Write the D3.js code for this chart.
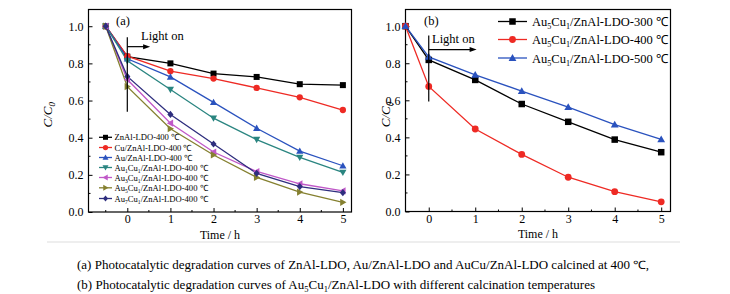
<!DOCTYPE html>
<html><head><meta charset="utf-8">
<script src="https://cdn.jsdelivr.net/npm/d3@7/dist/d3.min.js"></script>
<style>
body{margin:0;background:#fff;}
text{font-family:"Liberation Serif","Times New Roman",serif;}
</style></head>
<body><svg id="c" width="730" height="294"></svg>
<script>
// ---------- data ----------
const times = [-0.5, 0, 1, 2, 3, 4, 5];
const xTicks = [0, 1, 2, 3, 4, 5];
const yTicks = [0.0, 0.2, 0.4, 0.6, 0.8, 1.0];

// panel (a)
const znal   = [1.0, 0.836, 0.800, 0.745, 0.727, 0.688, 0.683];
const cu     = [1.0, 0.839, 0.758, 0.718, 0.668, 0.617, 0.549];
const au     = [1.0, 0.825, 0.727, 0.590, 0.451, 0.328, 0.249];
const au1cu1 = [1.0, 0.814, 0.659, 0.505, 0.390, 0.294, 0.213];
const au3cu1 = [1.0, 0.713, 0.478, 0.323, 0.218, 0.152, 0.114];
const au5cu1 = [1.0, 0.675, 0.448, 0.307, 0.186, 0.107, 0.052];
const au7cu1 = [1.0, 0.730, 0.525, 0.366, 0.208, 0.137, 0.104];

// panel (b)
const t300 = [1.0, 0.818, 0.710, 0.580, 0.484, 0.388, 0.320];
const t400 = [1.0, 0.675, 0.445, 0.308, 0.185, 0.107, 0.052];
const t500 = [1.0, 0.834, 0.737, 0.650, 0.563, 0.469, 0.389];

const seriesA = [
  {pre:"", sub:[], txt:"ZnAl-LDO-400 ℃", v:znal, c:"#000000", m:"square"},
  {pre:"", sub:[], txt:"Cu/ZnAl-LDO-400 ℃", v:cu, c:"#ee2a24", m:"circle"},
  {pre:"", sub:[], txt:"Au/ZnAl-LDO-400 ℃", v:au, c:"#2a52be", m:"up"},
  {sub:["1","1"], v:au1cu1, c:"#2a8580", m:"down"},
  {sub:["3","1"], v:au3cu1, c:"#c058c8", m:"left"},
  {sub:["5","1"], v:au5cu1, c:"#858030", m:"right"},
  {sub:["7","1"], v:au7cu1, c:"#2e2e7e", m:"diamond"}
];
const seriesB = [
  {sub:["5","1"], tail:"-300 ℃", v:t300, c:"#000000", m:"square"},
  {sub:["5","1"], tail:"-400 ℃", v:t400, c:"#ee2a24", m:"circle"},
  {sub:["5","1"], tail:"-500 ℃", v:t500, c:"#2a52be", m:"up"}
];

const svg = d3.select("#c");

function marker(g, type, x, y, s, col){
  const h = s/2;
  if(type==="square") g.append("rect").attr("x",x-h).attr("y",y-h).attr("width",s).attr("height",s).attr("fill",col);
  else if(type==="circle") g.append("circle").attr("cx",x).attr("cy",y).attr("r",h*1.05).attr("fill",col);
  else {
    let pts;
    const k=h*1.2;
    if(type==="up") pts=[[x,y-k],[x+k,y+k*0.75],[x-k,y+k*0.75]];
    if(type==="down") pts=[[x,y+k],[x+k,y-k*0.75],[x-k,y-k*0.75]];
    if(type==="left") pts=[[x-k,y],[x+k*0.75,y-k],[x+k*0.75,y+k]];
    if(type==="right") pts=[[x+k,y],[x-k*0.75,y-k],[x-k*0.75,y+k]];
    if(type==="diamond") pts=[[x,y-k],[x+k*0.85,y],[x,y+k],[x-k*0.85,y]];
    g.append("polygon").attr("points",pts.map(p=>p.join(",")).join(" ")).attr("fill",col);
  }
}

function panel(o){
  const x = d3.scaleLinear().domain(o.xd).range([o.l, o.r]);
  const y = d3.scaleLinear().domain([0, 1.09]).range([o.b, o.t]);
  const g = svg.append("g");
  const minorX = d3.range(-0.5, 5.01, 0.5).filter(v=>v>=o.xd[0]);
  const axB = d3.axisBottom(x).tickValues(xTicks).tickSize(-4).tickPadding(2.5).tickFormat(d3.format("d"));
  const gx = g.append("g").attr("transform",`translate(0,${o.b})`).call(axB);
  const axL = d3.axisLeft(y).tickValues(yTicks).tickSize(-4).tickPadding(5).tickFormat(d3.format(".1f"));
  const gy = g.append("g").attr("transform",`translate(${o.l},0)`).call(axL);
  [gx,gy].forEach(a=>{
    a.select(".domain").remove();
    a.selectAll("line").attr("stroke","#000").attr("stroke-width",1);
    a.selectAll("text").attr("font-family","Liberation Serif").attr("font-size",12).attr("fill","#000");
  });
  minorX.filter(v=>!xTicks.includes(v)).forEach(v=>{
    g.append("line").attr("x1",x(v)).attr("x2",x(v)).attr("y1",o.b).attr("y2",o.b-2).attr("stroke","#000");
  });
  d3.range(0.1,1.09,0.2).forEach(v=>{
    g.append("line").attr("x1",o.l).attr("x2",o.l+2).attr("y1",y(v)).attr("y2",y(v)).attr("stroke","#000");
  });
  g.append("rect").attr("x",o.l).attr("y",o.t).attr("width",o.r-o.l).attr("height",o.b-o.t)
    .attr("fill","none").attr("stroke","#000").attr("stroke-width",1.2);
  g.append("text").attr("x",(o.l+o.r)/2).attr("y",o.b+26.5).attr("text-anchor","middle")
    .attr("font-size",12).text("Time / h");
  const yl = g.append("text").attr("transform",`translate(${o.yl},${(o.t+o.b)/2+4}) rotate(-90)`)
    .attr("text-anchor","middle").attr("font-size",13).attr("font-style","italic");
  yl.append("tspan").text("C/C");
  yl.append("tspan").attr("font-size",9).attr("dy",3).text("0");
  const line = d3.line().x((d,i)=>x(times[i])).y(d=>y(d));
  o.series.forEach(s=>{
    g.append("path").attr("d",line(s.v)).attr("fill","none").attr("stroke",s.c).attr("stroke-width",1.3);
  });
  o.series.forEach(s=>{
    s.v.forEach((v,i)=>marker(g,s.m,x(times[i]),y(v),o.ms,s.c));
  });
  g.append("line").attr("x1",x(0)).attr("x2",x(0)).attr("y1",y(o.lightTop)).attr("y2",y(o.lightBot))
    .attr("stroke","#000").attr("stroke-width",1.2);
  g.append("line").attr("x1",x(0)).attr("x2",x(o.arrowEnd)-5).attr("y1",y(o.arrowY)).attr("y2",y(o.arrowY))
    .attr("stroke","#000").attr("stroke-width",1.2);
  const ax=x(o.arrowEnd), ay=y(o.arrowY);
  g.append("polygon").attr("points",`${ax},${ay} ${ax-7},${ay-2.5} ${ax-7},${ay+2.5}`).attr("fill","#000");
  g.append("text").attr("x",o.lightX).attr("y",o.lightTY).attr("font-size",12.5).text("Light on");
  g.append("text").attr("x",o.labX).attr("y",25).attr("font-size",12.5).text(o.lab);
  return {x,y,g};
}

const pa = panel({l:88.5,r:351.5,t:9.5,b:212,xd:[-0.9,5.2],yl:52,series:seriesA,ms:6,
  lightTop:0.94,lightBot:0.54,arrowEnd:0.53,arrowY:0.89,lightX:141,lightTY:40,labX:116,lab:"(a)"});
const pb = panel({l:405.5,r:670.5,t:9.5,b:211.5,xd:[-0.5,5.2],yl:390,series:seriesB,ms:6.5,
  lightTop:0.95,lightBot:0.593,arrowEnd:1.03,arrowY:0.874,lightX:432,lightTY:43,labX:424,lab:"(b)"});

function auCu(t, sub, fs){
  t.append("tspan").text("Au");
  t.append("tspan").attr("font-size",fs*0.65).attr("dy",fs*0.25).text(sub[0]);
  t.append("tspan").attr("dy",-fs*0.25).text("Cu");
  t.append("tspan").attr("font-size",fs*0.65).attr("dy",fs*0.25).text(sub[1]);
  t.append("tspan").attr("dy",-fs*0.25).text("/ZnAl-LDO");
}

const la = pa.g.append("g");
const rowsA = [137.3,147.5,157.5,167.5,177.5,187.8,198.5];
seriesA.forEach((s,i)=>{
  const yy=rowsA[i];
  la.append("line").attr("x1",99).attr("x2",112).attr("y1",yy).attr("y2",yy).attr("stroke",s.c).attr("stroke-width",1.3);
  marker(la,s.m,105.5,yy,5,s.c);
  const t = la.append("text").attr("x",114.5).attr("y",yy+3).attr("font-size",8.6);
  if(s.sub.length){ auCu(t,s.sub,8.6); t.append("tspan").text("-400 ℃"); }
  else t.text(s.txt);
});
const lb = pb.g.append("g");
const rowsB = [21.5,39.5,58];
seriesB.forEach((s,i)=>{
  const yy=rowsB[i];
  lb.append("line").attr("x1",498).attr("x2",527).attr("y1",yy).attr("y2",yy).attr("stroke",s.c).attr("stroke-width",1.3);
  marker(lb,s.m,512.5,yy,6.5,s.c);
  const t = lb.append("text").attr("x",532).attr("y",yy+4.5).attr("font-size",12.5);
  auCu(t,s.sub,12.5); t.append("tspan").text(s.tail);
});

svg.append("line").attr("x1",47).attr("x2",680).attr("y1",242).attr("y2",242).attr("stroke","#eeeeee").attr("stroke-width",2);

svg.append("text").attr("x",77).attr("y",269).attr("font-size",11.5)
  .attr("textLength",572).attr("lengthAdjust","spacingAndGlyphs")
  .text("(a) Photocatalytic degradation curves of ZnAl-LDO, Au/ZnAl-LDO and AuCu/ZnAl-LDO calcined at 400 ℃,");
const c2 = svg.append("text").attr("x",77).attr("y",289).attr("font-size",11.5)
  .attr("textLength",518).attr("lengthAdjust","spacingAndGlyphs");
c2.append("tspan").text("(b) Photocatalytic degradation curves of Au");
c2.append("tspan").attr("font-size",7.5).attr("dy",2.5).text("5");
c2.append("tspan").attr("dy",-2.5).text("Cu");
c2.append("tspan").attr("font-size",7.5).attr("dy",2.5).text("1");
c2.append("tspan").attr("dy",-2.5).text("/ZnAl-LDO with different calcination temperatures");
</script></body></html>
